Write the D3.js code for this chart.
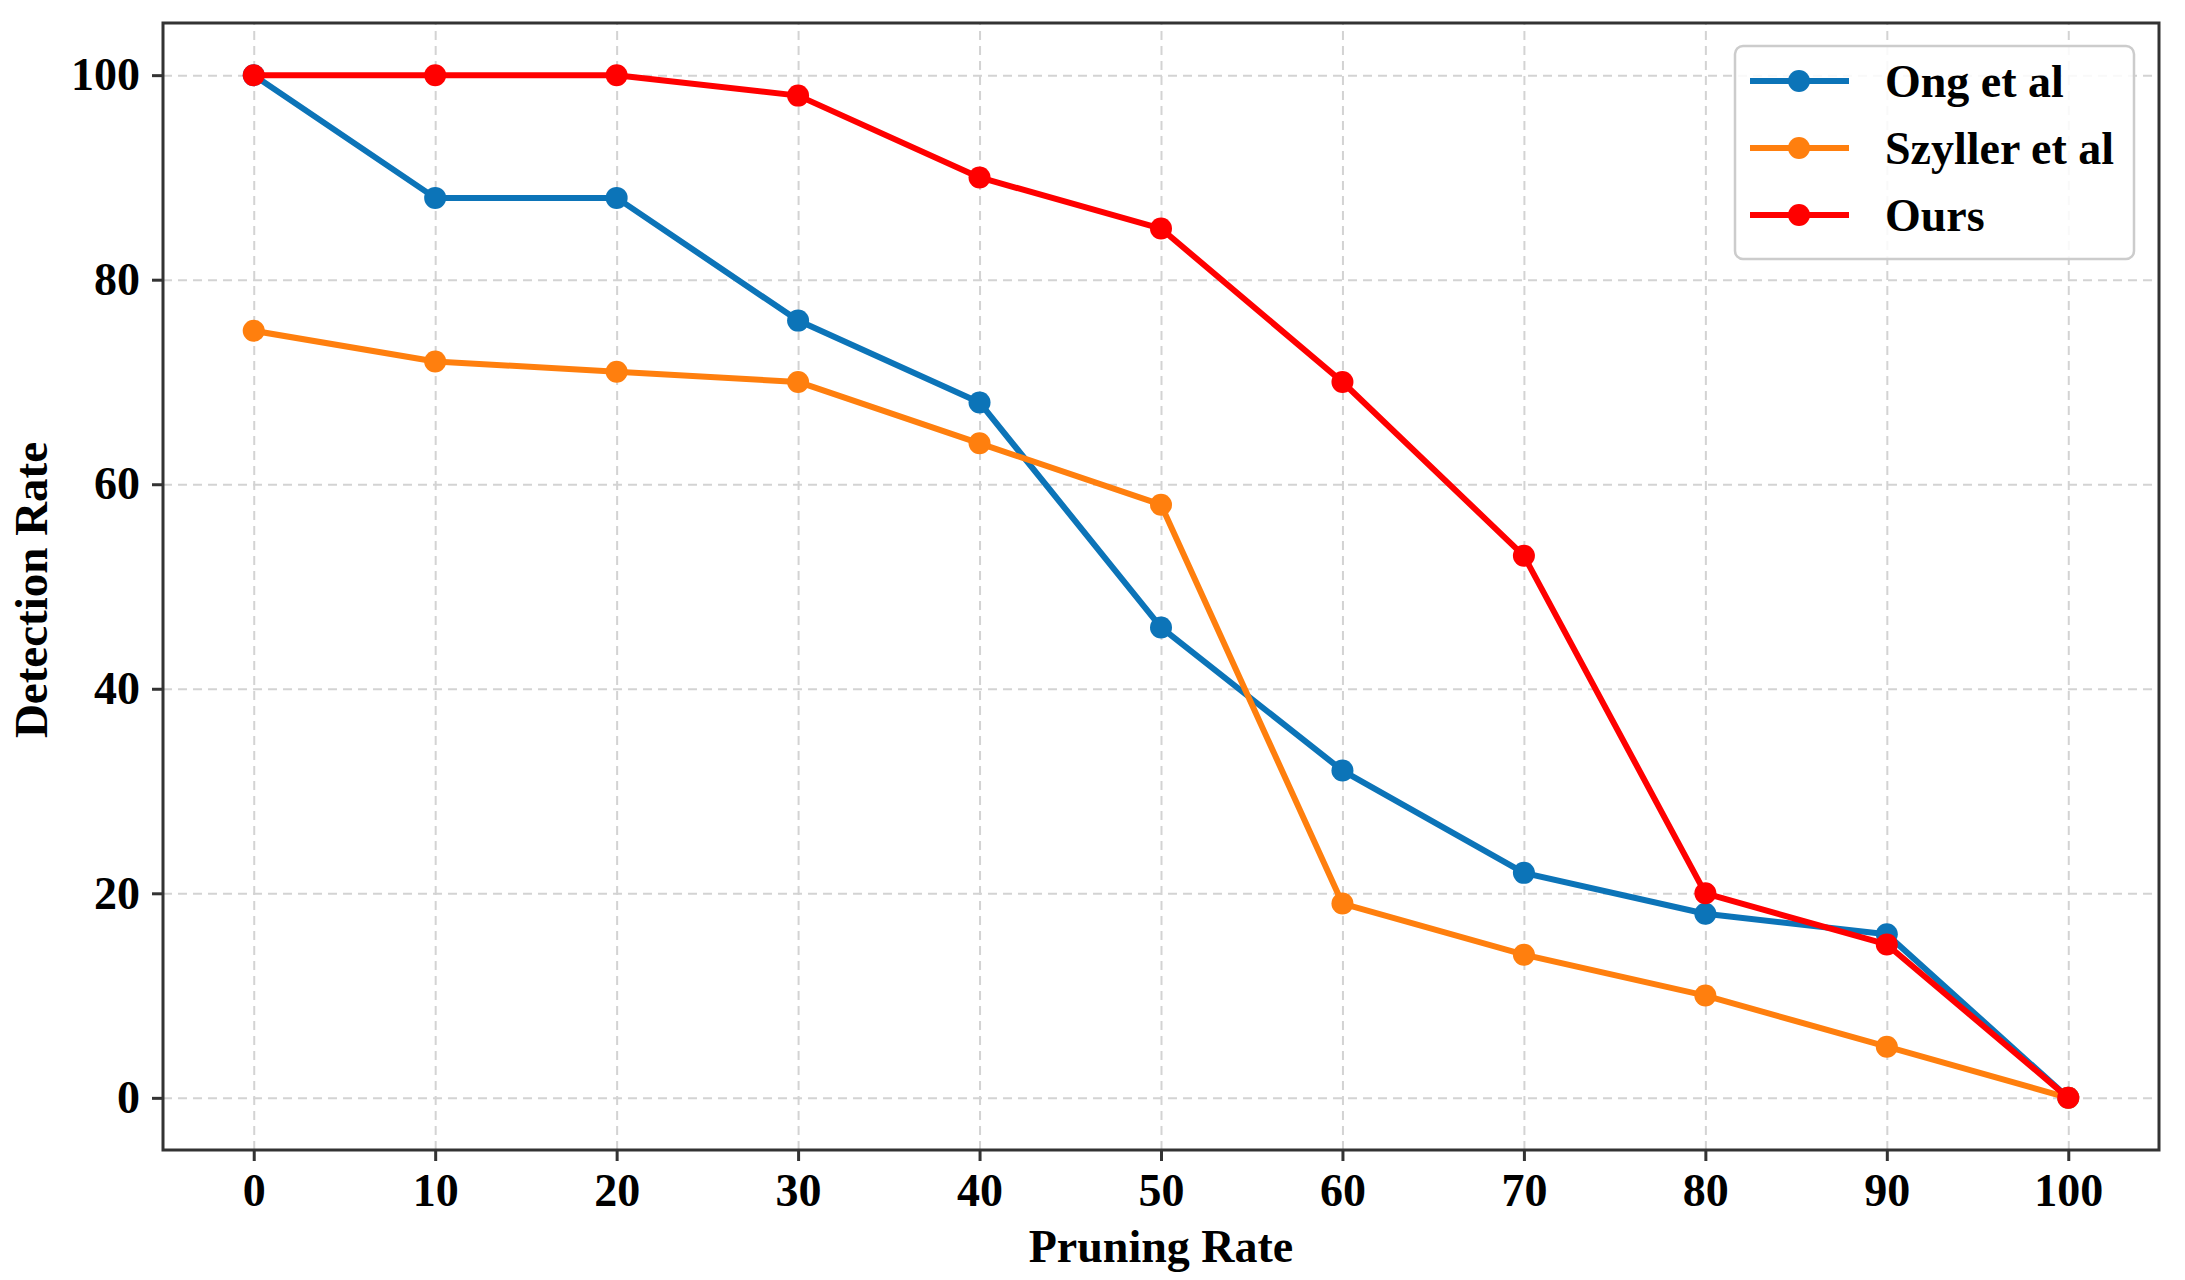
<!DOCTYPE html>
<html>
<head lang="en">
  <meta charset="UTF-8">
  <title>Detection Rate vs Pruning Rate</title>
  <script src="https://cdn.jsdelivr.net/npm/d3@7"></script>
</head>
<style>
  body { margin: 0; background: #fff; }
  #chart text { font-family: "Liberation Serif", "DejaVu Serif", serif; font-weight: bold; fill: #000; }
  .grid line { stroke: #d3d3d3; stroke-width: 2; stroke-dasharray: 9, 6; }
  .grid path { display: none; }
</style>
<body>

<svg id="chart"></svg>

<script>
  // chart values
  var pruningRates = [0, 10, 20, 30, 40, 50, 60, 70, 80, 90, 100];
  var ongEtAl      = [100, 88, 88, 76, 68, 46, 32, 22, 18, 16, 0];
  var szyllerEtAl  = [75, 72, 71, 70, 64, 58, 19, 14, 10, 5, 0];
  var ours         = [100, 100, 100, 98, 90, 85, 70, 53, 20, 15, 0];
  var seriesNames  = ['Ong et al', 'Szyller et al', 'Ours'];
  var seriesColors = ['#0c74b8', '#ff7f0e', '#ff0000'];
  var yTicks = [0, 20, 40, 60, 80, 100];

  var width = 2185, height = 1280;
  var plot = { left: 163, right: 2159, top: 23, bottom: 1150 };

  var svg = d3.select('#chart').attr('width', width).attr('height', height);

  var x = d3.scaleLinear().domain([-5, 105]).range([plot.left, plot.right]);
  var y = d3.scaleLinear().domain([-5.1, 105.1]).range([plot.bottom, plot.top]);

  // grid
  svg.append('g').attr('class', 'grid')
    .attr('transform', 'translate(0,' + plot.bottom + ')')
    .call(d3.axisBottom(x).tickValues(pruningRates).tickSize(-(plot.bottom - plot.top)).tickFormat(''));
  svg.append('g').attr('class', 'grid')
    .attr('transform', 'translate(' + plot.left + ',0)')
    .call(d3.axisLeft(y).tickValues(yTicks).tickSize(-(plot.right - plot.left)).tickFormat(''));

  // axes
  var xAxis = svg.append('g')
    .attr('transform', 'translate(0,' + plot.bottom + ')')
    .call(d3.axisBottom(x).tickValues(pruningRates).tickSize(11).tickPadding(12).tickSizeOuter(0));
  var yAxis = svg.append('g')
    .attr('transform', 'translate(' + plot.left + ',0)')
    .call(d3.axisLeft(y).tickValues(yTicks).tickSize(11).tickPadding(12).tickSizeOuter(0));
  [xAxis, yAxis].forEach(function (a) {
    a.select('.domain').remove();
    a.selectAll('.tick line').attr('stroke', '#333').attr('stroke-width', 3);
    a.selectAll('.tick text').style('font-size', '46px');
  });

  // frame
  svg.append('rect')
    .attr('x', plot.left).attr('y', plot.top)
    .attr('width', plot.right - plot.left).attr('height', plot.bottom - plot.top)
    .attr('fill', 'none').attr('stroke', '#333').attr('stroke-width', 3);

  // axis labels
  svg.append('text')
    .attr('x', (plot.left + plot.right) / 2).attr('y', 1262)
    .attr('text-anchor', 'middle').style('font-size', '46px')
    .text('Pruning Rate');
  svg.append('text')
    .attr('transform', 'translate(47,590) rotate(-90)')
    .attr('text-anchor', 'middle').style('font-size', '47px')
    .text('Detection Rate');

  // series
  var series = [ongEtAl, szyllerEtAl, ours];
  var line = d3.line()
    .x(function (d, i) { return x(pruningRates[i]); })
    .y(function (d) { return y(d); });

  series.forEach(function (vals, k) {
    svg.append('path')
      .attr('d', line(vals))
      .attr('fill', 'none')
      .attr('stroke', seriesColors[k])
      .attr('stroke-width', 6)
      .attr('stroke-linejoin', 'round');
    svg.selectAll(null)
      .data(vals)
      .enter()
      .append('circle')
      .attr('cx', function (d, i) { return x(pruningRates[i]); })
      .attr('cy', function (d) { return y(d); })
      .attr('r', 11)
      .attr('fill', seriesColors[k]);
  });

  // legend
  var legend = svg.append('g').attr('transform', 'translate(1735,46)');
  legend.append('rect')
    .attr('width', 399).attr('height', 213).attr('rx', 8)
    .attr('fill', 'rgba(255,255,255,0.85)')
    .attr('stroke', '#cccccc').attr('stroke-width', 2.5);
  seriesNames.forEach(function (name, k) {
    var row = legend.append('g').attr('transform', 'translate(0,' + (35 + k * 67) + ')');
    row.append('line')
      .attr('x1', 15).attr('x2', 114)
      .attr('stroke', seriesColors[k]).attr('stroke-width', 6);
    row.append('circle').attr('cx', 64).attr('r', 11).attr('fill', seriesColors[k]);
    row.append('text')
      .attr('x', 150).attr('dy', '0.35em')
      .style('font-size', '46px')
      .text(name);
  });
</script>
</body>
</html>
